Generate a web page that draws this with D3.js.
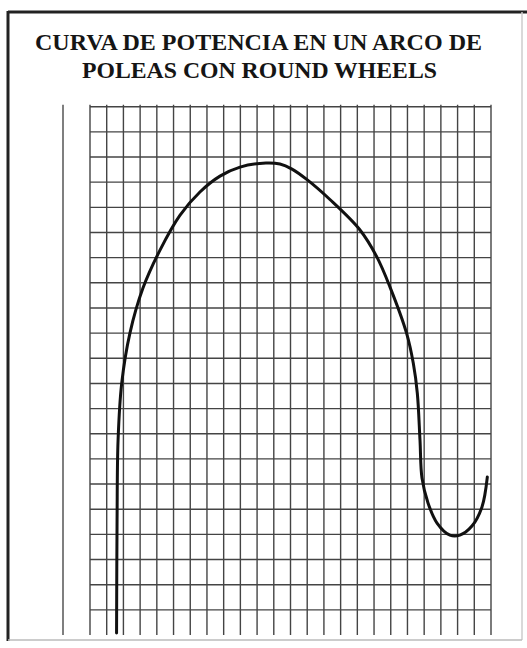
<!DOCTYPE html>
<html>
<head>
<meta charset="utf-8">
<script src="https://cdn.jsdelivr.net/npm/d3@7"></script>
<style>
  body { margin: 0; background: #fff; }
  svg { display: block; }
</style>
</head>
<body>
<div id="chart"></div>
<script>
// Title lines
var titleLines = ["CURVA DE POTENCIA EN UN ARCO DE", "POLEAS CON ROUND WHEELS"];

// Curve, in grid units (x: columns from left, y: rows from bottom)
var speed = [1.59, 1.62, 1.68, 1.90, 2.39, 3.17, 4.19, 5.39, 6.58, 7.78, 8.98, 10.53, 11.37, 12.09, 12.99,
  14.36, 16.16, 17.16, 17.95, 18.95, 19.35, 19.59, 19.75, 19.87, 20.23, 20.77, 21.54, 22.14, 22.86, 23.46, 23.78];
var power = [0.08, 4.57, 7.75, 10.02, 12.00, 13.79, 15.30, 16.69, 17.61, 18.24, 18.60, 18.76, 18.72, 18.52, 18.10,
  17.31, 16.10, 15.04, 13.84, 11.99, 10.80, 9.61, 7.75, 6.24, 5.25, 4.45, 3.97, 3.97, 4.33, 5.09, 6.28];

// Grid: 24 columns, 21 rows (no line on the bottom row)
var gridCols = d3.range(0, 25);
var gridRows = d3.range(1, 22);

var width = 527, height = 648;

var svg = d3.select("#chart")
  .append("svg")
  .attr("width", width)
  .attr("height", height);

// Scales
var x = d3.scaleLinear().domain([0, 24]).range([90, 491]);
var y = d3.scaleLinear().domain([0, 21]).range([635, 106.7]);

// Frame
svg.append("line").attr("x1", 8).attr("x2", 527).attr("y1", 12).attr("y2", 12)
  .attr("stroke", "#222").attr("stroke-width", 3);
svg.append("line").attr("x1", 8).attr("x2", 8).attr("y1", 11).attr("y2", 641)
  .attr("stroke", "#222").attr("stroke-width", 3);
svg.append("line").attr("x1", 522).attr("x2", 522).attr("y1", 12).attr("y2", 640)
  .attr("stroke", "#ccc").attr("stroke-width", 1.5);
svg.append("line").attr("x1", 8).attr("x2", 522).attr("y1", 640).attr("y2", 640)
  .attr("stroke", "#bbb").attr("stroke-width", 1.5);

// Title
svg.selectAll(".title")
  .data(titleLines)
  .enter().append("text")
  .attr("class", "title")
  .attr("x", function(d, i) { return i == 0 ? 35 : 82; })
  .attr("y", function(d, i) { return i == 0 ? 50 : 78; })
  .attr("textLength", function(d, i) { return i == 0 ? 447 : 355; })
  .attr("lengthAdjust", "spacingAndGlyphs")
  .attr("font-family", "'Liberation Serif', 'Times New Roman', serif")
  .attr("font-weight", "bold")
  .attr("font-size", 23)
  .attr("fill", "#151515")
  .text(function(d) { return d; });

// Y axis line, left of the grid
svg.append("line")
  .attr("x1", x(0) - 27).attr("x2", x(0) - 27)
  .attr("y1", y(21) - 2).attr("y2", y(0))
  .attr("stroke", "#555").attr("stroke-width", 1.5);

// Grid lines
var grid = svg.append("g").attr("stroke", "#444").attr("stroke-width", 1.4);

grid.selectAll(".v")
  .data(gridCols)
  .enter().append("line")
  .attr("class", "v")
  .attr("x1", d => x(d)).attr("x2", d => x(d))
  .attr("y1", y(21) - 2).attr("y2", y(0));

grid.selectAll(".h")
  .data(gridRows)
  .enter().append("line")
  .attr("class", "h")
  .attr("x1", x(0)).attr("x2", x(24))
  .attr("y1", d => y(d)).attr("y2", d => y(d));

// Power curve
var points = speed.map(function(s, i) { return [s, power[i]]; });

var line = d3.line()
  .x(function(d) { return x(d[0]); })
  .y(function(d) { return y(d[1]); })
  .curve(d3.curveCatmullRom.alpha(0.5));

svg.append("path")
  .datum(points)
  .attr("fill", "none")
  .attr("stroke", "#111")
  .attr("stroke-width", 3)
  .attr("stroke-linecap", "round")
  .attr("d", line);
</script>
</body>
</html>
